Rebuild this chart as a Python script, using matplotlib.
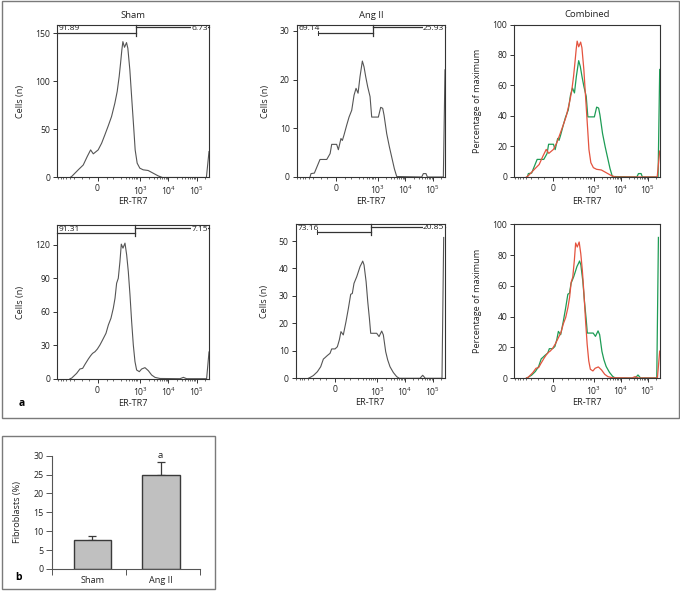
import numpy as np
import matplotlib
matplotlib.use("Agg")
import matplotlib.pyplot as plt
from matplotlib.patches import Rectangle

plt.rcParams['font.family'] = ['Open Sans', 'DejaVu Sans']
plt.rcParams['mathtext.fontset'] = 'custom'
plt.rcParams['mathtext.rm'] = 'Open Sans'

# ---------------- data ----------------
# ER-TR7 fluorescence (x) and cell counts (y) of the histogram outlines
sham1_x = [-290, -253, -143, -90, -58, -37, -22, 3, 21, 39, 61, 87, 119, 147, 175, 197, 220, 240,
           275, 325, 363, 428, 504, 595, 662, 780, 969, 1271, 1910, 2870, 4310, 6130, 220000, 272000]
sham1_y = [0, 1, 8, 13, 22, 28.7, 24.6, 28.7, 35.7, 44.3, 53.7, 63.4, 77.2, 89.4, 105, 118.8, 132.7,
           141.3, 135.4, 140.3, 134.4, 111.9, 80.7, 49.5, 28.7, 14.9, 9.7, 8, 7.3, 4.5, 1.7, 0, 0, 27]

ang1_x = [-268, -246, -184, -110, -53, -32, -23, 3, 12, 26, 34, 44, 62, 81, 106, 132, 158, 189, 224,
          274, 316, 364, 431, 525, 603, 1052, 1280, 1511, 1690, 2110, 2636, 3200, 3995, 4860,
          39000, 44800, 55900, 62500, 237000, 272000]
ang1_y = [0, 0.7, 0.8, 3.6, 3.6, 4.8, 6.7, 6.7, 5.6, 7.9, 7.5, 8.6, 10.6, 12.3, 13.7, 16.8, 18.2,
          17.2, 20.6, 23.8, 22.6, 20.6, 18.5, 16.5, 12.3, 12.3, 14.3, 14.1, 12.7, 8.9, 6.2, 4.1, 1.7,
          0.1, 0, 0.7, 0.7, 0, 0, 22]

sham2_x = [-290, -253, -165, -123, -95, -75, -51, -37, -26, -13, -1, 12, 26, 46, 62, 82, 103, 121,
           140, 162, 187, 210, 242, 286, 329, 377, 433, 496, 569, 652, 747, 930, 1125, 1475, 1937,
           2540, 3334, 5010, 25600, 33700, 44000, 224000, 272000]
sham2_y = [0, 0.5, 4.8, 8.7, 9.3, 12.9, 17.7, 20.6, 22.7, 24.2, 26.6, 30.2, 34.7, 40.7, 48.2, 54.2,
           63.1, 72.1, 85.6, 90, 105, 120.6, 117, 121.5, 111, 96, 75.1, 51.2, 30.2, 15.3, 7.8, 6.3,
           8.7, 9.9, 7.2, 3.3, 1.2, 0.2, 0, 1.2, 0, 0, 24]

ang2_x = [-285, -248, -186, -130, -95, -72, -60, -44, -28, -19, -1.5, 10.5, 21, 30, 44, 62, 81, 102,
          119, 139, 177, 204, 236, 272, 296, 331, 394, 452, 519, 578, 951, 1155, 1440, 1652, 2004,
          2365, 2870, 3782, 4985, 6200, 34300, 42900, 53500, 212000, 244000]
ang2_y = [0, 0.3, 1, 2.4, 4.2, 7, 7.5, 8.3, 9.1, 10.7, 10.7, 11.5, 14, 17, 15.8, 20.6, 25.5, 30.6,
          30.9, 34.6, 37, 38.8, 40.7, 41.9, 42.7, 41.3, 35.2, 27.9, 21.8, 16.4, 16.4, 15.2, 17.2,
          15.8, 9.7, 6.7, 4.2, 2.1, 0.6, 0, 0, 1.1, 0, 0, 51.3]

# peak (maximum) bin counts of each sample = top of its count axis
sham1_max, ang1_max, sham2_max, ang2_max = 158.6, 31.2, 137.3, 56.1

gates_sham1 = ("91.89", "6.73")
gates_ang1 = ("69.14", "25.93")
gates_sham2 = ("91.31", "7.15")
gates_ang2 = ("73.16", "20.85")

xtick_vals = [0, 1e3, 1e4, 1e5]
xtick_labels = ["0", r"$\mathregular{10^{3}}$", r"$\mathregular{10^{4}}$", r"$\mathregular{10^{5}}$"]

groups = ["Sham", "Ang II"]
fibro = [7.6, 24.8]
fibro_err = [1.2, 3.6]

# ---------------- scale ----------------
C = 62.0
def fwd(x):
    return np.arcsinh(np.asarray(x, dtype=float) / C)
def inv(u):
    return C * np.sinh(np.asarray(u, dtype=float))

XMIN, XMAX = -823, 272000
XMINOR = [-800, -600, -500, -400, -300, -200, -100, -50, 50, 100, 200, 300, 400, 500, 600, 700, 800,
          2e3, 3e3, 4e3, 5e3, 6e3, 7e3, 8e3, 9e3, 2e4, 3e4, 4e4, 5e4, 6e4, 7e4, 8e4, 9e4, 2e5]

W, H = 680, 599
fig = plt.figure(figsize=(W / 100, H / 100), dpi=100)
DARK = '#333333'
HIST = '#555555'
RED = '#e4533f'
GREEN = '#1d9c55'


def add_ax(x0, y0, x1, y1):
    return fig.add_axes([x0 / W, 1 - y1 / H, (x1 - x0) / W, (y1 - y0) / H])


def style(ax, ymax, yticks, ylabel, ylab_dx, title=None):
    ax.set_xscale('function', functions=(fwd, inv))
    ax.set_xlim(XMIN, XMAX)
    ax.set_ylim(0, ymax)
    ax.set_xticks(xtick_vals)
    ax.set_xticklabels(xtick_labels)
    ax.set_xticks(XMINOR, minor=True)
    ax.set_yticks(yticks)
    ax.tick_params(axis='both', which='major', direction='out', length=3, width=0.7,
                   labelsize=6.2, pad=2, color=DARK, labelcolor='#222222')
    ax.tick_params(axis='x', which='minor', direction='out', length=1.6, width=0.5, color=DARK)
    ax.tick_params(axis='y', which='minor', left=False)
    for s in ax.spines.values():
        s.set_linewidth(0.8)
        s.set_color(DARK)
        s.set_zorder(5)
    ax.set_ylabel(ylabel, fontsize=6.6, color='#222222')
    bb = ax.get_position()
    ax.yaxis.set_label_coords(ylab_dx / (bb.width * W), 0.5)
    hpx = bb.height * H
    ax.text(0.5, -24.5 / hpx, "ER-TR7", transform=ax.transAxes, ha='center', va='center',
            fontsize=6.6, color='#222222')
    if title:
        ax.text(0.5, 1 + 10 / hpx, title, transform=ax.transAxes, ha='center', va='center',
                fontsize=6.8, color='#222222')


def gates(ax, labels, start, split):
    tr = ax.get_xaxis_transform()
    yl, yr = 0.948, 0.984
    ax.plot([start, split], [yl, yl], transform=tr, color=DARK, lw=0.9, clip_on=False)
    ax.plot([split, split], [1.0, 0.93], transform=tr, color=DARK, lw=0.9, clip_on=False)
    if start > XMIN:
        ax.plot([start, start], [yl - 0.012, yl + 0.012], transform=tr, color=DARK, lw=0.7)
    ax.plot([split, XMAX], [yr, yr], transform=tr, color=DARK, lw=0.9, clip_on=False)
    ax.text(0.012, 0.974, labels[0], transform=ax.transAxes, ha='left', va='center',
            fontsize=6.0, color='#222222')
    ax.text(0.995, 0.976, labels[1], transform=ax.transAxes, ha='right', va='center',
            fontsize=6.0, color='#222222', zorder=4,
            bbox=dict(facecolor='white', edgecolor='none', pad=0.2))


# ---------------- top row ----------------
ax = add_ax(57.3, 25, 209, 177.5)
ax.plot(sham1_x, sham1_y, color=HIST, lw=0.8)
style(ax, sham1_max, [0, 50, 100, 150], "Cells (n)", -32, "Sham")
gates(ax, gates_sham1, XMIN, 718)

ax = add_ax(296.7, 25, 445, 177)
ax.plot(ang1_x, ang1_y, color=HIST, lw=0.8)
style(ax, ang1_max, [0, 10, 20, 30], "Cells (n)", -27, "Ang II")
gates(ax, gates_ang1, -128, 657)

ax = add_ax(514.3, 24.5, 659.7, 177)
ax.plot(ang1_x, np.array(ang1_y) / ang1_max * 100, color=GREEN, lw=0.9)
ax.plot(sham1_x, np.array(sham1_y) / sham1_max * 100, color=RED, lw=0.9)
style(ax, 100, [0, 20, 40, 60, 80, 100], "Percentage of maximum", -32, "Combined")

# ---------------- bottom row ----------------
ax = add_ax(57.3, 225.5, 209, 378.7)
ax.plot(sham2_x, sham2_y, color=HIST, lw=0.8)
style(ax, sham2_max, [0, 30, 60, 90, 120], "Cells (n)", -32)
gates(ax, gates_sham2, XMIN, 652)

ax = add_ax(295.7, 224.3, 445, 378.3)
ax.plot(ang2_x, ang2_y, color=HIST, lw=0.8)
style(ax, ang2_max, [0, 10, 20, 30, 40, 50], "Cells (n)", -27)
gates(ax, gates_ang2, -130, 578)

ax = add_ax(514.3, 224.3, 659.7, 378)
ax.plot(ang2_x, np.array(ang2_y) / ang2_max * 100, color=GREEN, lw=0.9)
ax.plot(sham2_x, np.array(sham2_y) / sham2_max * 100, color=RED, lw=0.9)
style(ax, 100, [0, 20, 40, 60, 80, 100], "Percentage of maximum", -32)

fig.text(22 / W, 1 - 403 / H, "a", fontsize=7.5, fontweight='bold', ha='center', va='center')

# ---------------- panel b ----------------
axb = add_ax(51.7, 455.7, 200, 569)
pos = [0.55, 1.47]
axb.bar(pos, fibro, width=0.51, color='#c0c0c0', edgecolor='#3a3a3a', linewidth=1.0, zorder=2)
axb.errorbar(pos, fibro, yerr=[[0, 0], fibro_err], fmt='none', ecolor='#3a3a3a', elinewidth=0.9,
             capsize=3, capthick=0.9, zorder=1)
axb.annotate("a", xy=(pos[1], fibro[1] + fibro_err[1]), xytext=(0, 1.5), textcoords='offset points',
             ha='center', va='bottom', fontsize=6.8, color='#222222')
axb.set_xlim(0, 2)
axb.set_ylim(0, 30)
axb.set_yticks([0, 5, 10, 15, 20, 25, 30])
axb.set_xticks([0, 1, 2])
axb.set_xticklabels([])
axb.set_xticks(pos, minor=True)
axb.set_xticklabels(groups, minor=True)
axb.tick_params(axis='x', which='minor', length=0, labelsize=6.6, pad=5, labelcolor='#222222')
axb.tick_params(axis='x', which='major', length=4, width=0.7, color='#555555')
axb.tick_params(axis='y', length=4, width=0.7, color='#555555', labelsize=6.4, pad=2,
                labelcolor='#222222')
for s in ['top', 'right']:
    axb.spines[s].set_visible(False)
for s in ['left', 'bottom']:
    axb.spines[s].set_linewidth(0.8)
    axb.spines[s].set_color('#555555')
axb.set_ylabel("Fibroblasts (%)", fontsize=6.6, color='#222222')
axb.yaxis.set_label_coords(-30 / 148.3, 0.5)
fig.text(18 / W, 1 - 578 / H, "b", fontsize=7.5, fontweight='bold', ha='center', va='center')

# ---------------- frames ----------------
def frame(x0, y0, x1, y1):
    fig.add_artist(Rectangle((x0 / W, 1 - y1 / H), (x1 - x0) / W, (y1 - y0) / H,
                             transform=fig.transFigure, fill=False, ec='#7a7a7a', lw=1.0))

frame(1.5, 1, 678.5, 418)
frame(1.5, 436, 215, 589)

fig.savefig("out.png", dpi=100)
